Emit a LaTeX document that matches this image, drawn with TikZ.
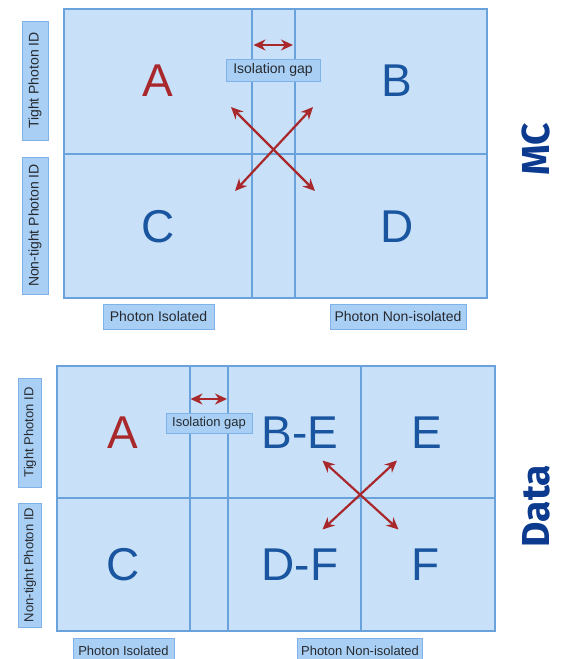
\documentclass[tikz,border=0pt]{standalone}
\usepackage{fontspec}
\setmainfont{Liberation Sans}
\newfontfamily\titlefont{Fira Sans}
\usetikzlibrary{arrows.meta}
\definecolor{cellfill}{HTML}{C8E0F8}
\definecolor{gridline}{HTML}{6AA2DC}
\definecolor{lblfill}{HTML}{A9CFF4}
\definecolor{lblborder}{HTML}{7FB2E8}
\definecolor{redA}{HTML}{A8282C}
\definecolor{blueL}{HTML}{1A55A0}
\definecolor{navy}{HTML}{0B3A8F}
\definecolor{lbltext}{HTML}{262A30}
\tikzset{
  grid/.style={draw=gridline, line width=2pt},
  lbl/.style={draw=lblborder, fill=lblfill, line width=1pt, inner sep=0pt, text=lbltext},
  lbltop/.style={lbl, font=\fontsize{14}{14}\selectfont},
  lblbot/.style={lbl, font=\fontsize{13}{13}\selectfont},
  bigletter/.style={anchor=base, inner sep=0pt, font=\fontsize{46}{46}\selectfont},
  redletter/.style={bigletter, text=redA},
  blueletter/.style={bigletter, text=blueL},
  arr/.style={draw=redA, line width=2.2pt, {Stealth[length=12pt,width=11pt]}-{Stealth[length=12pt,width=11pt]}},
  title/.style={rotate=90, inner sep=0pt, text height=0.72em, text depth=0pt, text=navy, font=\titlefont\bfseries\fontsize{39}{39}\selectfont}
}
\begin{document}
\begin{tikzpicture}[x=1pt,y=-1pt]
\useasboundingbox (0,0) rectangle (561,659);
\fill[white] (0,0) rectangle (561,659);
% ---------- top panel (MC) ----------
\fill[cellfill] (63.5,8.5) rectangle (487,298);
\draw[grid] (63.5,8.5) rectangle (487,298);
\draw[grid] (63.5,153.5) -- (487,153.5);
\draw[grid] (252,8.5) -- (252,298);
\draw[grid] (294.5,8.5) -- (294.5,298);

\node[redletter] (tA) at (158,96) {A};
\node[blueletter] (tB) at (397,96) {B};
\node[blueletter] (tC) at (158,242) {C};
\node[blueletter] (tD) at (397,242) {D};

\coordinate (tg1) at (253.5,45);
\coordinate (tg2) at (293,45);
\draw[arr] (tg1) -- (tg2);
\node[lbltop, minimum width=94pt, minimum height=22pt] (tgap) at (273,70) {Isolation gap};

\coordinate (tx1) at (231,107);
\coordinate (tx2) at (315,191);
\coordinate (tx3) at (313,107);
\coordinate (tx4) at (235,191);
\draw[arr] (tx1) -- (tx2);
\draw[arr] (tx3) -- (tx4);

\node[lbltop, rotate=90, minimum width=119pt, minimum height=26pt] (ttight) at (35,80.5) {Tight Photon ID};
\node[lbltop, rotate=90, minimum width=137pt, minimum height=26pt] (tnon) at (35,225.5) {Non-tight Photon ID};
\node[lbltop, minimum width=111pt, minimum height=25pt] (tiso) at (158.5,316.5) {Photon Isolated};
\node[lbltop, minimum width=136pt, minimum height=25pt] (tniso) at (398,316.5) {Photon Non-isolated};

\node[title] (mc) at (546,149) {MC};

% ---------- bottom panel (Data) ----------
\fill[cellfill] (56.5,366) rectangle (494.5,631);
\draw[grid] (56.5,366) rectangle (494.5,631);
\draw[grid] (56.5,498) -- (494.5,498);
\draw[grid] (189.5,366) -- (189.5,631);
\draw[grid] (228,366) -- (228,631);
\draw[grid] (361,366) -- (361,631);

\node[redletter] (bA) at (123,448) {A};
\node[blueletter] (bBE) at (300,448) {B-E};
\node[blueletter] (bE) at (427,448) {E};
\node[blueletter] (bC) at (123,580) {C};
\node[blueletter] (bDF) at (300,580) {D-F};
\node[blueletter] (bF) at (426,580) {F};

\coordinate (bg1) at (190.5,399);
\coordinate (bg2) at (227,399);
\draw[arr] (bg1) -- (bg2);
\node[lblbot, minimum width=86pt, minimum height=20pt] (bgap) at (209,423) {Isolation gap};

\coordinate (bx1) at (322.5,460.5);
\coordinate (bx2) at (398.5,529.5);
\coordinate (bx3) at (397,460.5);
\coordinate (bx4) at (322.5,529.5);
\draw[arr] (bx1) -- (bx2);
\draw[arr] (bx3) -- (bx4);

\node[lblbot, rotate=90, minimum width=109pt, minimum height=23.5pt] (btight) at (30,432.5) {Tight Photon ID};
\node[lblbot, rotate=90, minimum width=124pt, minimum height=23.5pt] (bnon) at (30,565) {Non-tight Photon ID};
\node[lblbot, minimum width=101pt, minimum height=24pt] (biso) at (123.5,650.5) {Photon Isolated};
\node[lblbot, minimum width=124.5pt, minimum height=24pt] (bniso) at (360,650.5) {Photon Non-isolated};

\node[title] (data) at (546,506) {Data};
\end{tikzpicture}
\end{document}
